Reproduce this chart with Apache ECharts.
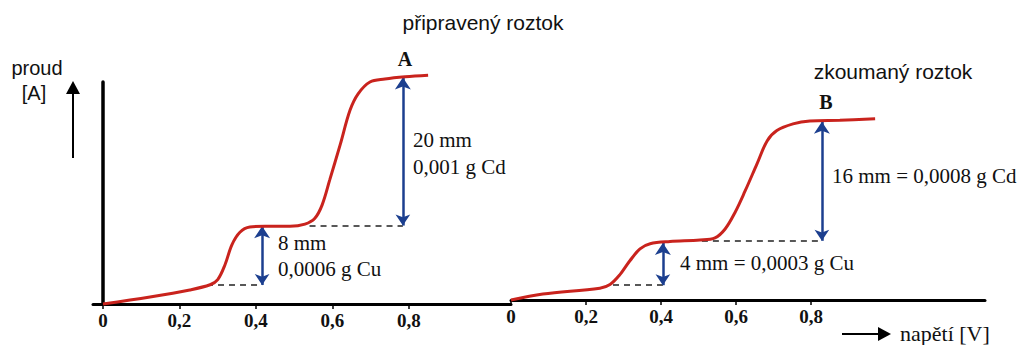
<!DOCTYPE html>
<html><head><meta charset="utf-8">
<script src="https://cdn.jsdelivr.net/npm/echarts@6/dist/echarts.min.js"></script>
<style>html,body{margin:0;padding:0;background:#fff}#c{width:1030px;height:345px}</style>
</head><body><div id="c"></div>
<script>
// ---- data (x in V, y in mm of chart record) ----
const xTicks = [0, 0.2, 0.4, 0.6, 0.8];
const curveA = [[0,0],[0.123,0.95],[0.227,1.9],[0.28,2.6],[0.30,3.3],[0.319,5.3],[0.337,8.0],[0.358,9.7],[0.384,10.4],[0.424,10.5],[0.489,10.5],[0.528,10.8],[0.554,11.6],[0.573,13.4],[0.593,16.8],[0.62,21.5],[0.646,26.2],[0.667,28.4],[0.698,30.0],[0.737,30.4],[0.79,30.7],[0.85,30.9]];
const curveB = [[0,0],[0.085,0.8],[0.237,1.6],[0.264,2.1],[0.29,3.4],[0.317,5.3],[0.344,6.9],[0.371,7.6],[0.424,7.9],[0.504,8.1],[0.544,8.4],[0.571,9.6],[0.597,11.8],[0.624,14.7],[0.656,18.4],[0.683,21.5],[0.709,22.9],[0.752,23.8],[0.797,24.2],[0.877,24.3],[0.971,24.5]];
const dashA = [[[0.272,2.57],[0.416,2.57]],[[0.54,10.6],[0.784,10.6]]];
const arrowA = [[[0.416,2.57],[0.416,10.5]],[[0.784,10.6],[0.784,30.6]]];
const dashB = [[[0.272,2.0],[0.405,2.0]],[[0.509,8.0],[0.829,8.0]]];
const arrowB = [[[0.405,2.0],[0.405,7.7]],[[0.829,8.0],[0.829,24.1]]];
const titleA = 'připravený roztok';
const titleB = 'zkoumaný roztok';
const labelsA = ['20 mm', '0,001 g Cd', '8 mm', '0,0006 g Cu'];
const labelsB = ['16 mm = 0,0008 g Cd', '4 mm = 0,0003 g Cu'];
const yName = ['proud', '[A]'];
const xName = 'napětí [V]';

const chart = echarts.init(document.getElementById('c'), null, {renderer: 'svg'});
const SERIF = '"Liberation Serif","DejaVu Serif",serif';
const SANS = '"Liberation Sans","DejaVu Sans",sans-serif';
const RED = '#c9231d', BLUE = '#1c3f8f';

function xAxisCfg(idx, min, max) {
  return {
    type: 'value', gridIndex: idx, min: min, max: max,
    splitLine: {show: false},
    axisLine: {show: true, onZero: false, lineStyle: {color: '#000', width: 3}},
    axisTick: {show: true, customValues: xTicks, length: 5, lineStyle: {color: '#000', width: 1.5}},
    axisLabel: {customValues: xTicks, color: '#111', fontFamily: SERIF, fontSize: 19, fontWeight: 'bold', margin: 7,
      formatter: v => String(Math.round(v * 10) / 10).replace('.', ',')}
  };
}
function yAxisCfg(idx, show) {
  return {
    type: 'value', gridIndex: idx, min: 0, max: 30,
    splitLine: {show: false}, axisTick: {show: false}, axisLabel: {show: false},
    axisLine: {show: show, onZero: true, lineStyle: {color: '#000', width: 3.5}}
  };
}
function curve(idx, data) {
  return {type: 'line', xAxisIndex: idx, yAxisIndex: idx, data: data, smooth: 0.35, showSymbol: false, clip: false,
    lineStyle: {color: RED, width: 3}, silent: true};
}
function lines(idx, segs, dashed) {
  return {type: 'lines', coordinateSystem: 'cartesian2d', xAxisIndex: idx, yAxisIndex: idx, clip: false, silent: true,
    symbol: dashed ? ['none','none'] : ['arrow','arrow'], symbolSize: dashed ? 0 : [11, 12],
    lineStyle: dashed ? {color: '#222', width: 1.5, type: [6, 5], opacity: 1} : {color: BLUE, width: 2.5, opacity: 1},
    data: segs.map(s => ({coords: s}))};
}
const txt = (x, y, s, font, size, weight, align) => ({type: 'text', x: x, y: y,
  style: {text: s, font: (weight || 'normal') + ' ' + size + 'px ' + font, fill: '#111', textAlign: align || 'left', textVerticalAlign: 'middle'}});

chart.setOption({
  animation: false,
  grid: [
    {left: 93, width: 418, top: 82, bottom: 41},
    {left: 511, width: 474, top: 78, bottom: 45}
  ],
  xAxis: [xAxisCfg(0, -0.0261, 1.0667), xAxisCfg(1, 0, 1.264)],
  yAxis: [yAxisCfg(0, true), yAxisCfg(1, false)],
  series: [
    curve(0, curveA), lines(0, dashA, true), lines(0, arrowA, false),
    curve(1, curveB), lines(1, dashB, true), lines(1, arrowB, false)
  ],
  graphic: [
    txt(483, 22, titleA, SANS, 21, 'normal', 'center'),
    txt(893, 71, titleB, SANS, 21, 'normal', 'center'),
    txt(405, 59, 'A', SERIF, 20, 'bold', 'center'),
    txt(826, 102, 'B', SERIF, 20, 'bold', 'center'),
    txt(413, 140, labelsA[0], SERIF, 21),
    txt(413, 167, labelsA[1], SERIF, 21),
    txt(278, 243, labelsA[2], SERIF, 21),
    txt(278, 269, labelsA[3], SERIF, 21),
    txt(832, 176, labelsB[0], SERIF, 21),
    txt(680, 263, labelsB[1], SERIF, 21),
    txt(37, 68, yName[0], SANS, 20, 'normal', 'center'),
    txt(34, 93, yName[1], SANS, 20, 'normal', 'center'),
    txt(900, 333, xName, SERIF, 22),
    {type: 'line', shape: {x1: 73, y1: 158, x2: 73, y2: 92}, style: {stroke: '#000', lineWidth: 2}},
    {type: 'polygon', shape: {points: [[73, 81], [66, 94], [80, 94]]}, style: {fill: '#000'}},
    {type: 'line', shape: {x1: 842, y1: 334, x2: 880, y2: 334}, style: {stroke: '#000', lineWidth: 2}},
    {type: 'polygon', shape: {points: [[891, 334], [878, 327], [878, 341]]}, style: {fill: '#000'}}
  ]
});
</script></body></html>
